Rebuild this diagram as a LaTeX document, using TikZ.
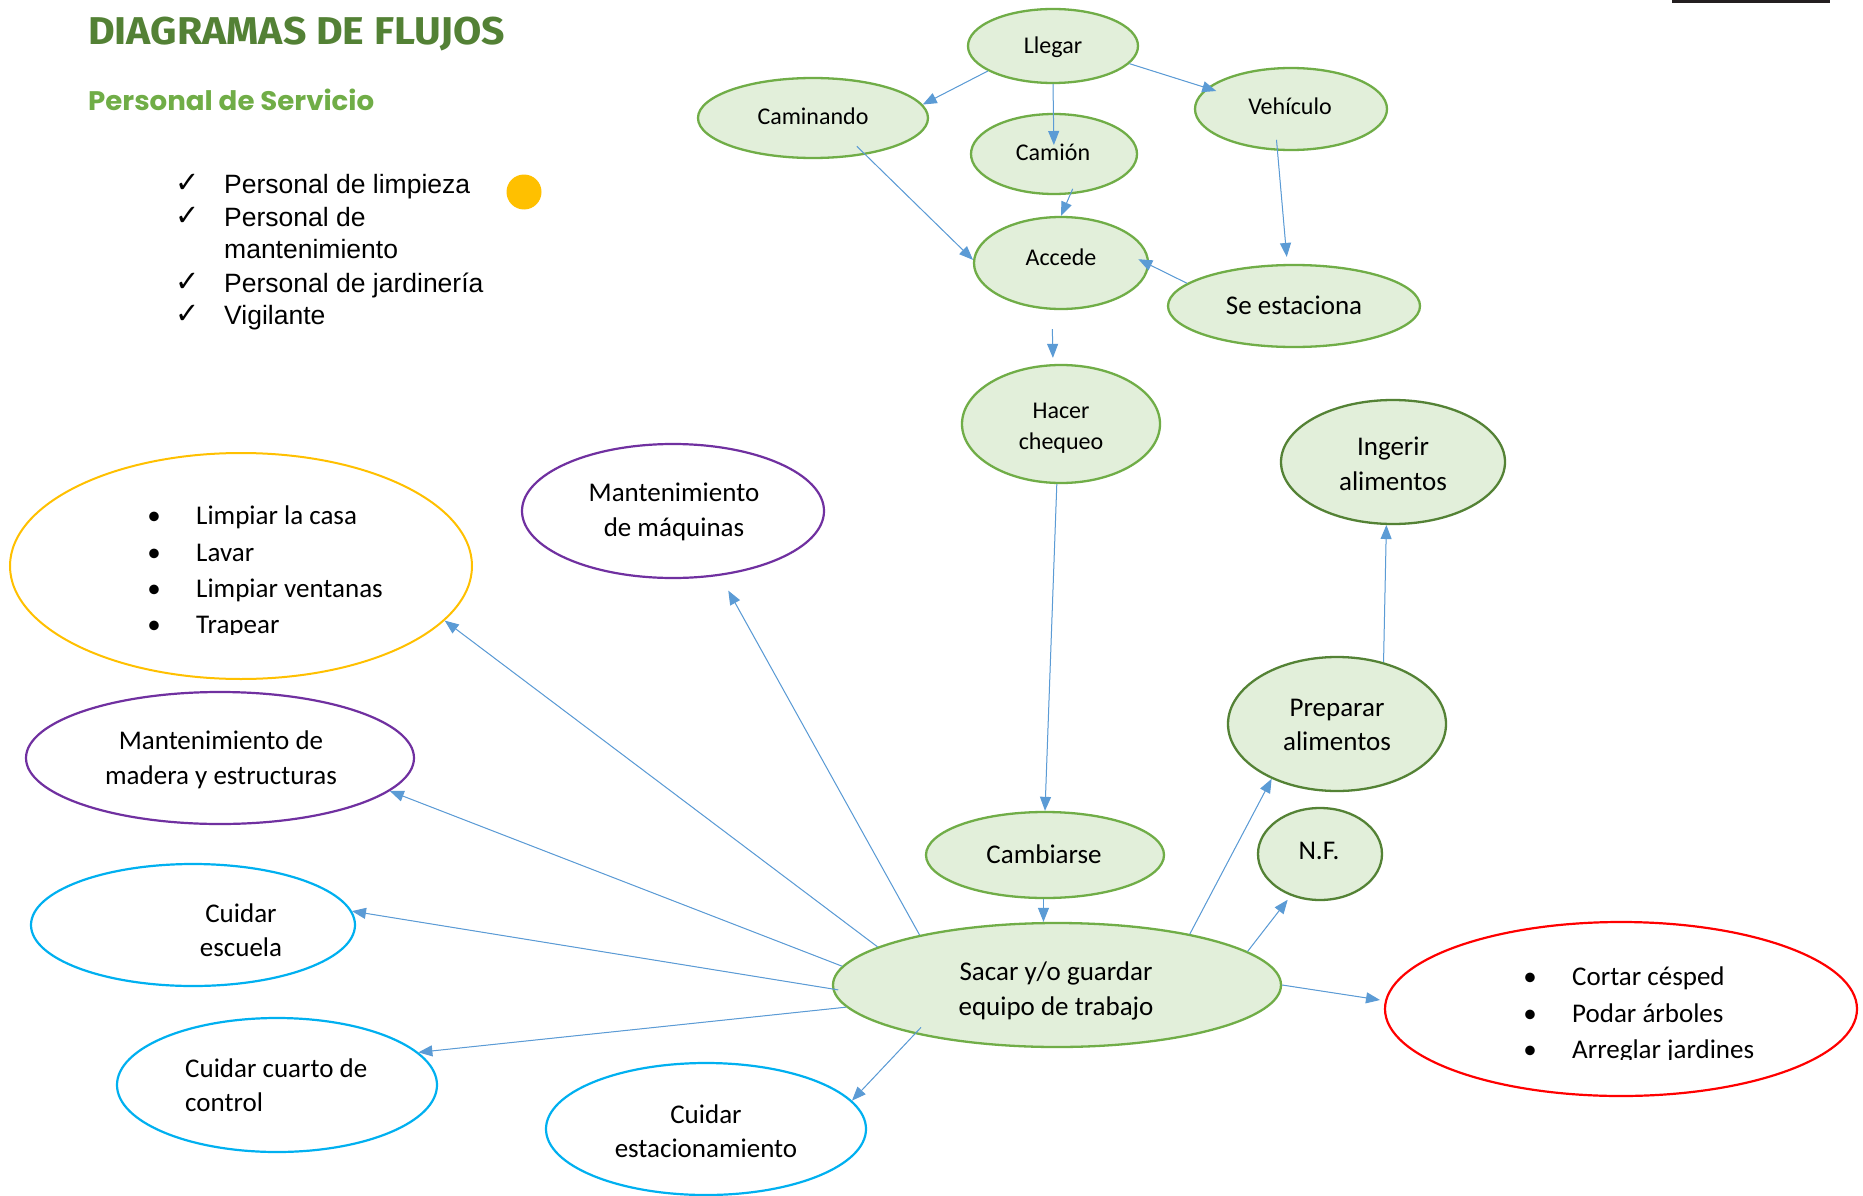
\documentclass[tikz,border=0pt]{standalone}
\usepackage{fontspec}
\setmainfont{Carlito}
\newfontfamily\arialf{Liberation Sans}
\newfontfamily\symf{DejaVu Sans}
\newfontfamily\titlef{Fira Sans}
\newfontfamily\subf{Poppins}
\usetikzlibrary{shapes.geometric,arrows.meta}
\definecolor{gfill}{HTML}{E2EFDA}
\definecolor{gline}{HTML}{70AD47}
\definecolor{gdark}{HTML}{548235}
\definecolor{ablue}{HTML}{5B9BD5}
\definecolor{purp}{HTML}{7030A0}
\definecolor{yel}{HTML}{FFC000}
\definecolor{cyanb}{HTML}{00B0F0}
\definecolor{redc}{HTML}{FF0000}
\definecolor{ttl}{HTML}{538135}
\definecolor{barc}{HTML}{231F20}
\tikzset{
  gn/.style={ellipse, draw=gline, fill=gfill, line width=2.3pt, inner sep=0pt},
  gd/.style={gn, draw=gdark},
  outl/.style={ellipse, draw=#1, fill=white, line width=2.2pt, inner sep=0pt},
  arr/.style={draw=ablue, line width=1pt, -{Triangle[length=14pt,width=11pt]}, fill=ablue},
  tx/.style={font=\fontsize{27}{34.5}\selectfont, align=center, inner sep=0pt},
  txs/.style={font=\fontsize{24}{31}\selectfont, align=center, inner sep=0pt},
  chk/.style={font=\symf\fontsize{29}{32}\selectfont, inner sep=0pt, anchor=base west},
  lst/.style={font=\arialf\fontsize{26.5}{32.8}\selectfont, inner sep=0pt, anchor=base west},
  bul/.style={font=\fontsize{27}{34.5}\selectfont, inner sep=0pt, anchor=base},
  itm/.style={font=\fontsize{27}{34.5}\selectfont, inner sep=0pt, anchor=base west}
}
\begin{document}
\begin{tikzpicture}[x=1pt,y=-1pt]
\useasboundingbox (0,0) rectangle (1863,1196);
\fill[white] (0,0) rectangle (1863,1196);
% top-right bar
\fill[barc] (1672,0) rectangle (1830,3.5);

% titles
\node[inner sep=0pt, anchor=base west, text=ttl] (title) at (88,45)
  {\resizebox{417pt}{27.5pt}{\titlef\bfseries DIAGRAMAS DE FLUJOS}};
\node[inner sep=0pt, anchor=base west, text=gline] (subtitle) at (88,111)
  {\resizebox{286pt}{21.5pt}{\subf\bfseries Personal de Servicio}};

% checklist
\node[chk] (c1) at (175,192) {✓};
\node[lst] (l1) at (224,193) {Personal de limpieza};
\node[chk] (c2) at (175,225) {✓};
\node[lst] (l2) at (224,226) {Personal de};
\node[lst] (l2b) at (224,258) {mantenimiento};
\node[chk] (c3) at (175,291) {✓};
\node[lst] (l3) at (224,292) {Personal de jardinería};
\node[chk] (c4) at (175,323) {✓};
\node[lst] (l4) at (224,324) {Vigilante};
\node[circle, fill=yel, minimum size=35pt, inner sep=0pt] (dot) at (524,192) {};

% green nodes
\node[gn, minimum width=170pt, minimum height=74pt] (llegar) at (1053,46) {};
\node[txs] (llegar-t) at (1053,47) {Llegar};
\node[gn, minimum width=230pt, minimum height=80pt] (caminando) at (813,118) {};
\node[txs] (caminando-t) at (813,116) {Caminando};
\node[gn, minimum width=166pt, minimum height=80pt] (camion) at (1054,154) {};
\node[txs] (camion-t) at (1053,152) {Camión};
\node[gn, minimum width=192pt, minimum height=82pt] (vehiculo) at (1291,109) {};
\node[txs] (vehiculo-t) at (1290,106) {Vehículo};
\node[gn, minimum width=174pt, minimum height=92pt] (accede) at (1061,263) {};
\node[txs] (accede-t) at (1061,257) {Accede};
\node[gn, minimum width=252pt, minimum height=82pt] (seest) at (1294,306) {};
\node[tx] (seest-t) at (1294,305) {Se estaciona};
\node[gn, minimum width=198pt, minimum height=118pt] (hacer) at (1061,424) {};
\node[txs] (hacer-t) at (1061,428) {Hacer\\chequeo};
\node[gd, minimum width=224pt, minimum height=124pt] (ingerir) at (1393,462) {};
\node[tx] (ingerir-t) at (1393,464) {Ingerir\\alimentos};
\node[gd, minimum width=218pt, minimum height=134pt] (preparar) at (1337,724) {};
\node[tx] (preparar-t) at (1337,725) {Preparar\\alimentos};
\node[gd, minimum width=124pt, minimum height=92pt] (nf) at (1320,854) {};
\node[tx] (nf-t) at (1319,851) {N.F.};
\node[gn, minimum width=238pt, minimum height=86pt] (cambiarse) at (1045,855) {};
\node[tx] (cambiarse-t) at (1044,854) {Cambiarse};
\node[gn, minimum width=448pt, minimum height=124pt] (sacar) at (1057,985) {};
\node[tx] (sacar-t) at (1056,991) {Sacar y/o guardar\\equipo de trabajo};

% outlined nodes
\node[outl=redc, minimum width=472pt, minimum height=174pt] (red) at (1621,1009) {};
\begin{scope}
\clip (1500,940) rectangle (1800,1059.5);
\node[bul] (rb1) at (1530,985) {•};
\node[itm] (r1) at (1572,985) {Cortar césped};
\node[bul] (rb2) at (1530,1022) {•};
\node[itm] (r2) at (1572,1022) {Podar árboles};
\node[bul] (rb3) at (1530,1058) {•};
\node[itm] (r3) at (1572,1058) {Arreglar jardines};
\end{scope}

\node[outl=cyanb, minimum width=320pt, minimum height=132pt] (cuest) at (706,1129) {};
\node[tx] (cuest-t) at (706,1131) {Cuidar\\estacionamiento};
\node[outl=cyanb, minimum width=320pt, minimum height=134pt] (cucuarto) at (277,1085) {};
\node[tx, align=left, anchor=west] (cucuarto-t) at (185,1085) {Cuidar cuarto de\\control};
\node[outl=cyanb, minimum width=324pt, minimum height=122pt] (cuesc) at (193,925) {};
\node[tx] (cuesc-t) at (241,930) {Cuidar\\escuela};
\node[outl=purp, minimum width=388pt, minimum height=132pt] (madera) at (220,758) {};
\node[tx] (madera-t) at (221,760) {Mantenimiento de\\madera y estructuras};
\node[outl=purp, minimum width=302pt, minimum height=134pt] (maquinas) at (673,511) {};
\node[tx] (maquinas-t) at (674,512) {Mantenimiento\\de máquinas};
\node[outl=yel, line width=2pt, minimum width=462pt, minimum height=226pt] (limp) at (241,566) {};
\begin{scope}
\clip (120,480) rectangle (420,634);
\node[bul] (lb1) at (154,524) {•};
\node[itm] (li1) at (196,524) {Limpiar la casa};
\node[bul] (lb2) at (154,561) {•};
\node[itm] (li2) at (196,561) {Lavar};
\node[bul] (lb3) at (154,597) {•};
\node[itm] (li3) at (196,597) {Limpiar ventanas};
\node[bul] (lb4) at (154,633) {•};
\node[itm] (li4) at (196,633) {Trapear};
\end{scope}

% connectors
\draw[arr] (llegar.201) -- (caminando.7);
\draw[arr, shorten >=9pt] (llegar.south) -- (camion.center);
\draw[arr, shorten >=-10pt] (llegar.347) -- (vehiculo.166);
\draw[arr, shorten <=-12pt] (caminando.325) -- (accede.178);
\draw[arr, shorten <=-6pt] (camion.292) -- (accede.north);
\draw[arr, shorten <=-11pt, shorten >=7pt] (vehiculo.252) -- (seest.99);
\draw[arr, shorten >=-12pt] (seest.168) -- (accede.359);
\draw[arr, shorten <=19pt, shorten >=6pt] ([xshift=-9pt]accede.south) -- ([xshift=-8pt]hacer.north);
\draw[arr] (hacer.266) -- (cambiarse.north);
\draw[arr] (cambiarse.268) -- (cambiarse.268 |- sacar.north);
\draw[arr] (sacar.21) -- (preparar.220);
\draw[arr, shorten >=5pt] (sacar.10) -- (nf.235);
\draw[arr] (preparar.53) -- (ingerir.264);
\draw[arr, shorten >=5pt] (sacar.east) -- (red.178);
\draw[arr, shorten <=-9pt] (sacar.199) -- (cuest.11);
\draw[arr] (sacar.186) -- (cucuarto.13);
\draw[arr, shorten <=-6pt] (sacar.181) -- (cuesc.5);
\draw[arr] (sacar.175) -- (madera.349);
\draw[arr] (sacar.168) -- (limp.345);
\draw[arr, shorten >=17pt] (sacar.160) -- (maquinas.306);
\end{tikzpicture}
\end{document}
